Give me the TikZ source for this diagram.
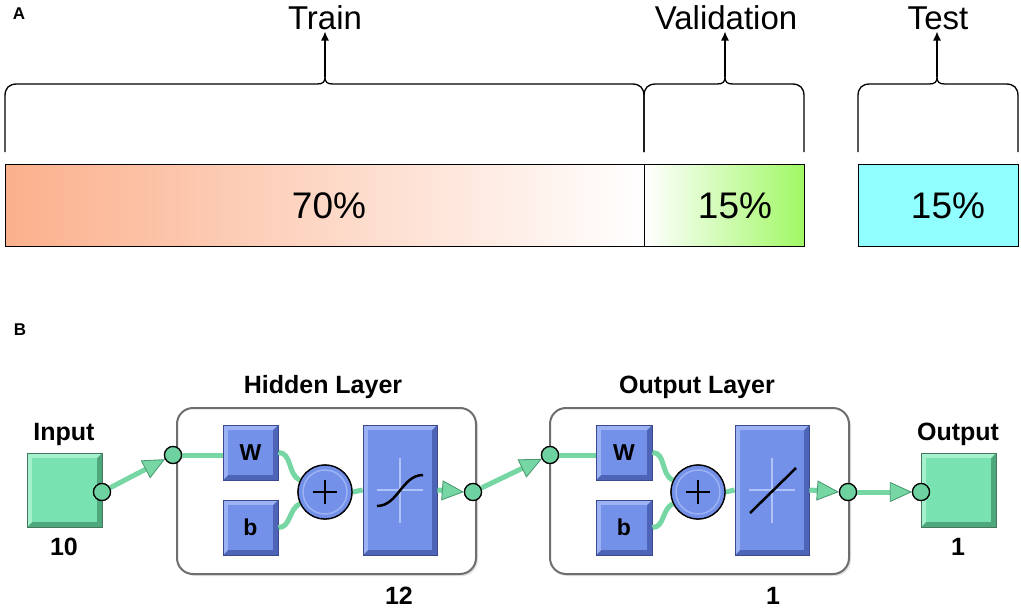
\documentclass[tikz,border=0pt]{standalone}
\usepackage{fontspec}
\setmainfont{Liberation Sans}
\usetikzlibrary{arrows.meta,calc,fit}
\definecolor{salmonC}{RGB}{251,176,140}
\definecolor{valC}{RGB}{160,248,100}
\definecolor{testC}{RGB}{145,255,255}
\definecolor{nbF}{RGB}{115,145,232}
\definecolor{nbL}{RGB}{155,178,245}
\definecolor{nbD}{RGB}{78,100,182}
\definecolor{nbB}{RGB}{60,72,140}
\definecolor{ngF}{RGB}{120,226,176}
\definecolor{ngL}{RGB}{165,240,205}
\definecolor{ngD}{RGB}{78,168,124}
\definecolor{ngB}{RGB}{70,120,95}
\definecolor{wireC}{RGB}{118,214,164}
\definecolor{wireE}{RGB}{70,150,110}
\definecolor{jointC}{RGB}{110,210,160}
\definecolor{layerC}{RGB}{110,110,110}
\definecolor{crossC}{RGB}{175,195,248}
\newcommand\bevbox[6]{%
 \fill[#6D] (#2,#3) rectangle (#4,#5);
 \fill[#6L] (#2,#3) -- (#4,#3) -- ({#4-5},{#3+5}) -- ({#2+5},{#3+5}) -- ({#2+5},{#5-5}) -- (#2,#5) -- cycle;
 \fill[#6F] ({#2+5},{#3+5}) rectangle ({#4-5},{#5-5});
 \coordinate (#1-a) at (#2,#3); \coordinate (#1-b) at (#4,#5);
 \node[fit=(#1-a)(#1-b), inner sep=0pt, draw=#6B, line width=0.8pt] (#1) {};
}
\newcommand\curlybrace[3]{%
 \draw[brace] (#1,152) -- (#1,96) .. controls (#1,88) and ({#1+4},84) .. ({#1+12},84)
   -- ({#2-8},84) .. controls ({#2-2},84) and (#2,82) .. (#2,77)
   .. controls (#2,82) and ({#2+2},84) .. ({#2+8},84)
   -- ({#3-12},84) .. controls ({#3-4},84) and (#3,88) .. (#3,96) -- (#3,152);
}
\tikzset{
 brace/.style={draw=black, line width=1.3pt},
 uparrow/.style={line width=1.3pt, -{Latex[length=9pt,width=8pt]}},
 bar/.style={draw=black, line width=1.2pt, minimum height=82pt, inner sep=0pt, anchor=north west},
 pct/.style={font=\fontsize{37}{40}\selectfont, anchor=base, inner sep=2pt},
 ttl/.style={font=\fontsize{33}{36}\selectfont, anchor=base, inner sep=2pt},
 panel/.style={font=\bfseries\fontsize{17}{19}\selectfont, anchor=base},
 lbl/.style={font=\bfseries\fontsize{25}{28}\selectfont, anchor=base, inner sep=1pt},
 inlbl/.style={font=\bfseries\fontsize{23}{26}\selectfont},
 wire/.style={draw=wireC, line width=5pt},
 wirearrow/.style={wire, -{Triangle[length=22pt,width=20pt,line width=0.8pt,color=wireE,fill=wireC]}},
 joint/.style={circle, draw=black, line width=1.2pt, fill=jointC, minimum size=17pt, inner sep=0pt},
 layer/.style={draw=layerC, line width=2pt, rounded corners=16pt, fill=white, minimum width=299pt, minimum height=166pt, anchor=north west, inner sep=0pt},
 plusnode/.style={circle, draw=black, line width=1.3pt, fill=nbF, minimum size=54pt, inner sep=0pt},
}
\begin{document}
\begin{tikzpicture}[x=1pt,y=-1pt]
\useasboundingbox[fill=white] (0,0) rectangle (1021,608);
% ---------- Panel A ----------
\node[panel] (pA) at (19,19) {A};
\node[bar, minimum width=639pt, left color=salmonC, right color=white] (trainbar) at (5,164) {};
\node[bar, minimum width=160pt, left color=white, right color=valC] (valbar) at (644,164) {};
\node[bar, minimum width=160pt, fill=testC] (testbar) at (858,164) {};
\node[pct] (trainpct) at (329,218) {70\%};
\node[pct] (valpct) at (735,218) {15\%};
\node[pct] (testpct) at (948,218) {15\%};
\node[ttl] (trainT) at (325,29) {Train};
\node[ttl] (valT) at (726,29) {Validation};
\node[ttl] (testT) at (938,29) {Test};
\curlybrace{5}{325}{644}
\curlybrace{644}{725}{804}
\curlybrace{858}{937}{1018}
\coordinate (trtip) at (325,77);
\coordinate (vatip) at (725,77);
\coordinate (tetip) at (937,77);
\draw[uparrow] (trtip) -- (trainT.south -| trtip);
\draw[uparrow] (vatip) -- (valT.south -| vatip);
\draw[uparrow] (tetip) -- (testT.south -| tetip);
% ---------- Panel B ----------
\node[panel] (pB) at (20,335) {B};
\fill[gray!22, rounded corners=16pt] (179,410) rectangle (478,576);
\fill[gray!22, rounded corners=16pt] (552,410) rectangle (851,576);
\node[layer] (hidL) at (176,407) {};
\node[layer] (outL) at (549,407) {};
\node[lbl] (hidT) at (323,393) {Hidden Layer};
\node[lbl] (outT) at (697,393) {Output Layer};
\bevbox{inBox}{27}{453}{102}{527}{ng}
\bevbox{outBox}{921}{453}{996}{527}{ng}
\node[lbl] (inT) at (64,440) {Input};
\node[lbl] (outputT) at (958,440) {Output};
\node[lbl] (inN) at (64,555) {10};
\node[lbl] (outN) at (958,555) {1};
\node[lbl] (hidN) at (399,604) {12};
\node[lbl] (olN) at (773,604) {1};
% layer parts
\bevbox{W1}{223}{425}{278}{480}{nb}
\bevbox{b1}{223}{500}{278}{555}{nb}
\bevbox{S1}{363}{425}{437}{555}{nb}
\bevbox{W2}{596}{425}{652}{480}{nb}
\bevbox{b2}{596}{500}{652}{555}{nb}
\bevbox{S2}{735}{425}{809}{555}{nb}
\node[inlbl] at (W1) {W};
\node[inlbl] at (b1) {b};
\node[inlbl] at (W2) {W};
\node[inlbl] at (b2) {b};
% transfer function icons
\draw[crossC, line width=1.2pt] (377,490) -- (423,490) (400,458) -- (400,523);
\draw[black, line width=2.5pt] (377,506) .. controls (398,506) and (402,475) .. (423,475);
\draw[crossC, line width=1.2pt] (749,490) -- (795,490) (772,458) -- (772,523);
\draw[black, line width=2.5pt] (750,513) -- (796,468);
% joints and summing nodes
\node[plusnode] (P1) at (325,492) {};
\node[plusnode] (P2) at (698,492) {};
\node[joint] (inO) at (102,492) {};
\node[joint] (hIn) at (173,455) {};
\node[joint] (hOut) at (473,492) {};
\node[joint] (oIn) at (550,455) {};
\node[joint] (oOut) at (848,492) {};
\node[joint] (outI) at (921,492) {};
% wires
\draw[wirearrow] (inO) -- (hIn);
\draw[wire] (hIn.east) -- (hIn.east -| W1.west);
\draw[wire] (W1.east) to[out=0,in=155] (P1);
\draw[wire] (b1.east) to[out=0,in=-155] (P1);
\draw[wire] (P1.east) -- (S1.west);
\draw[wirearrow] (S1.east) -- (hOut.west);
\draw[wirearrow] (hOut) -- (oIn);
\draw[wire] (oIn.east) -- (oIn.east -| W2.west);
\draw[wire] (W2.east) to[out=0,in=155] (P2);
\draw[wire] (b2.east) to[out=0,in=-155] (P2);
\draw[wire] (P2.east) -- (S2.west);
\draw[wirearrow] (S2.east) -- (oOut.west);
\draw[wirearrow] (oOut.east) -- (outI.west);
% redraw nodes on top of wires
\foreach \p in {P1,P2}{
  \node[plusnode] at (\p) {};
  \draw[nbL, line width=1.5pt] (\p) circle[radius=22pt];
  \draw[black, line width=2.5pt] ($(\p)+(-12,0)$) -- ($(\p)+(12,0)$) ($(\p)+(0,-12)$) -- ($(\p)+(0,12)$);
}
\foreach \j in {inO,hIn,hOut,oIn,oOut,outI}{
  \node[joint] at (\j) {};
}
\end{tikzpicture}
\end{document}
